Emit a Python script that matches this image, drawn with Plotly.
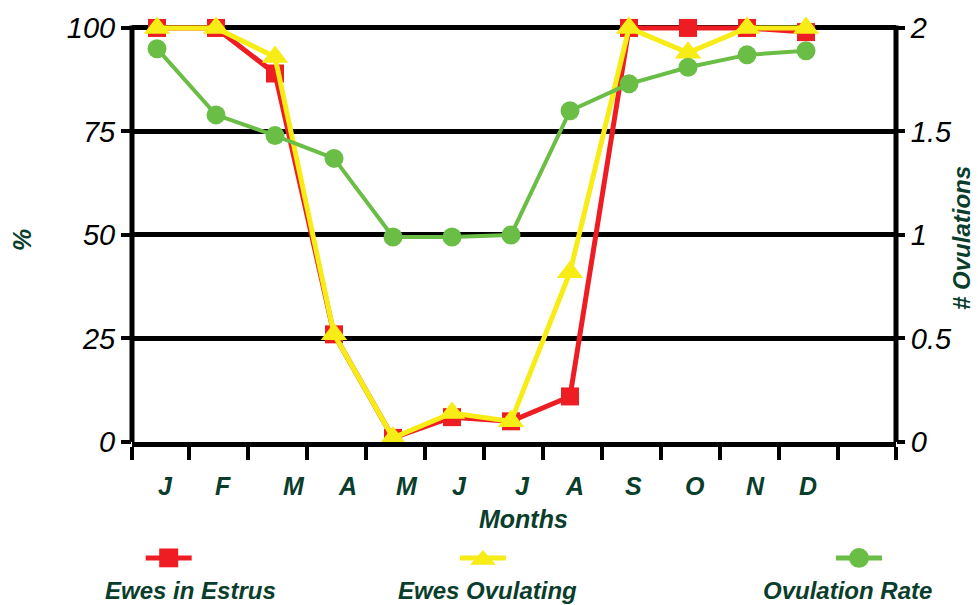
import plotly.graph_objects as go

# Monthly reproductive activity of ewes
months = ["J", "F", "M", "A", "M", "J", "J", "A", "S", "O", "N", "D"]
ewes_in_estrus = [100, 100, 89, 26, 1, 6, 5, 11, 100, 100, 100, 99]
ewes_ovulating = [100, 100, 93, 26, 1, 7, 5, 41, 100, 94, 100, 100]
ovulation_rate = [1.90, 1.58, 1.48, 1.37, 0.99, 0.99, 1.00, 1.60, 1.73, 1.81, 1.87, 1.89]

pct_ticks = [0, 25, 50, 75, 100]
rate_ticks = [0, 0.5, 1, 1.5, 2]
rate_tick_text = ["0", "0.5", "1", "1.5", "2"]

# styling
RED = "#EE1D24"
YELLOW = "#F7EC15"
GREEN = "#6ABD45"
TEXT_GREEN = "#0A3D2B"
FONT = "Liberation Sans"

W, H = 978, 605
L, R, T, B = 132, 82, 19, 163
PLOT_W = W - L - R
PLOT_H = H - T - B
Y_TOP = 100 * PLOT_H / 418.0          # so that 100 sits a few px below the frame top
Y2_TOP = 2 * PLOT_H / 418.0
X_RANGE = [-0.424, 12.525]

# small horizontal nudges of the month labels (in category units)
label_nudge = [0.14, 0.12, 0.32, 0.22, 0.24, 0.12, 0.19, 0.07, 0.07, 0.12, 0.15, 0.03]


def px(x, y):
    """pixel position -> paper coordinates"""
    return (x - L) / PLOT_W, (H - B - y) / PLOT_H


xs = list(range(len(months)))

fig = go.Figure()
fig.add_trace(go.Scatter(
    x=xs, y=ewes_in_estrus, name="Ewes in Estrus", mode="lines+markers",
    line=dict(color=RED, width=5),
    marker=dict(symbol="square", size=18, color=RED),
    cliponaxis=False))
fig.add_trace(go.Scatter(
    x=xs, y=ewes_ovulating, name="Ewes Ovulating", mode="lines+markers",
    line=dict(color=YELLOW, width=5),
    marker=dict(symbol="triangle-up", size=23, color=YELLOW),
    cliponaxis=False))
fig.add_trace(go.Scatter(
    x=xs, y=ovulation_rate, name="Ovulation Rate", mode="lines+markers",
    yaxis="y2",
    line=dict(color=GREEN, width=4),
    marker=dict(symbol="circle", size=19, color=GREEN),
    cliponaxis=False))

tick_font = dict(family=FONT, size=29, color="black", style="italic")
label_font = dict(family=FONT, size=25, color=TEXT_GREEN, style="italic", weight="bold")
legend_font = dict(family=FONT, size=24, color=TEXT_GREEN, style="italic", weight="bold")

fig.update_layout(
    width=W, height=H,
    margin=dict(l=L, r=R, t=T, b=B, pad=0),
    paper_bgcolor="white", plot_bgcolor="white",
    showlegend=False,
    xaxis=dict(
        range=X_RANGE, showgrid=False, zeroline=False,
        showline=True, linecolor="black", linewidth=5,
        ticks="outside", ticklen=13, tickwidth=4, tickcolor="black",
        tickvals=[X_RANGE[0] + 0.005] + [i + 0.55 for i in xs] + [X_RANGE[1] - 0.005],
        showticklabels=False,
    ),
    yaxis=dict(
        range=[0, Y_TOP], zeroline=False, showline=False,
        showgrid=True, gridcolor="black", gridwidth=5,
        tickvals=pct_ticks, ticks="outside", ticklen=10, tickwidth=4, tickcolor="black",
        tickfont=tick_font,
    ),
    yaxis2=dict(
        range=[0, Y2_TOP], overlaying="y", side="right",
        zeroline=False, showline=False, showgrid=False,
        tickvals=rate_ticks, ticktext=rate_tick_text,
        ticks="outside", ticklen=8, tickwidth=4, tickcolor="black",
        tickfont=tick_font,
    ),
)

# vertical frame lines stopping at the top gridline
for xp in (0, 1):
    fig.add_shape(type="line", xref="paper", yref="y", x0=xp, x1=xp, y0=0, y1=100.6,
                  line=dict(color="black", width=5), layer="above")

annotations = []
# month labels
for i, (m, dx) in enumerate(zip(months, label_nudge)):
    annotations.append(dict(x=i + dx, y=px(0, 486)[1], xref="x", yref="paper",
                            text=m, showarrow=False, font=label_font,
                            xanchor="center", yanchor="middle"))
# axis titles
mx, my = px(523, 520)
annotations.append(dict(x=mx, y=my, xref="paper", yref="paper", text="Months",
                        showarrow=False, font=label_font, xanchor="center", yanchor="middle"))
ax_, ay_ = px(22, 238)
annotations.append(dict(x=ax_, y=ay_, xref="paper", yref="paper", text="%",
                        showarrow=False, font=label_font, textangle=-90,
                        xanchor="center", yanchor="middle"))
bx, by = px(962, 236)
annotations.append(dict(x=bx, y=by, xref="paper", yref="paper", text="# Ovulations",
                        showarrow=False, font=dict(label_font, size=24), textangle=-90,
                        xanchor="center", yanchor="middle"))

# legend: symbol row and label row
legend_items = [
    ("Ewes in Estrus", RED, "square", 168.7, 190),
    ("Ewes Ovulating", YELLOW, "triangle", 483, 487),
    ("Ovulation Rate", GREEN, "circle", 859, 847),
]
for label, color, sym, sx, tx in legend_items:
    sy = 559
    x0, y0 = px(sx - 23, sy)
    x1, _ = px(sx + 23, sy)
    fig.add_shape(type="line", xref="paper", yref="paper", x0=x0, x1=x1, y0=y0, y1=y0,
                  line=dict(color=color, width=5))
    if sym == "square":
        a, b = px(sx - 9.5, sy + 9.5)
        c, d = px(sx + 9.5, sy - 9.5)
        fig.add_shape(type="rect", xref="paper", yref="paper", x0=a, y0=b, x1=c, y1=d,
                      fillcolor=color, line=dict(width=0))
    elif sym == "circle":
        a, b = px(sx - 10, sy + 10)
        c, d = px(sx + 10, sy - 10)
        fig.add_shape(type="circle", xref="paper", yref="paper", x0=a, y0=b, x1=c, y1=d,
                      fillcolor=color, line=dict(width=0))
    else:
        p1 = px(sx - 13, sy + 7)
        p2 = px(sx + 13, sy + 7)
        p3 = px(sx, sy - 8)
        path = "M {} {} L {} {} L {} {} Z".format(p1[0], p1[1], p2[0], p2[1], p3[0], p3[1])
        fig.add_shape(type="path", xref="paper", yref="paper", path=path,
                      fillcolor=color, line=dict(width=0))
    lx, ly = px(tx, 592)
    annotations.append(dict(x=lx, y=ly, xref="paper", yref="paper", text=label,
                            showarrow=False, font=legend_font,
                            xanchor="center", yanchor="middle"))

fig.update_layout(annotations=annotations)

fig.write_html("out.html")
